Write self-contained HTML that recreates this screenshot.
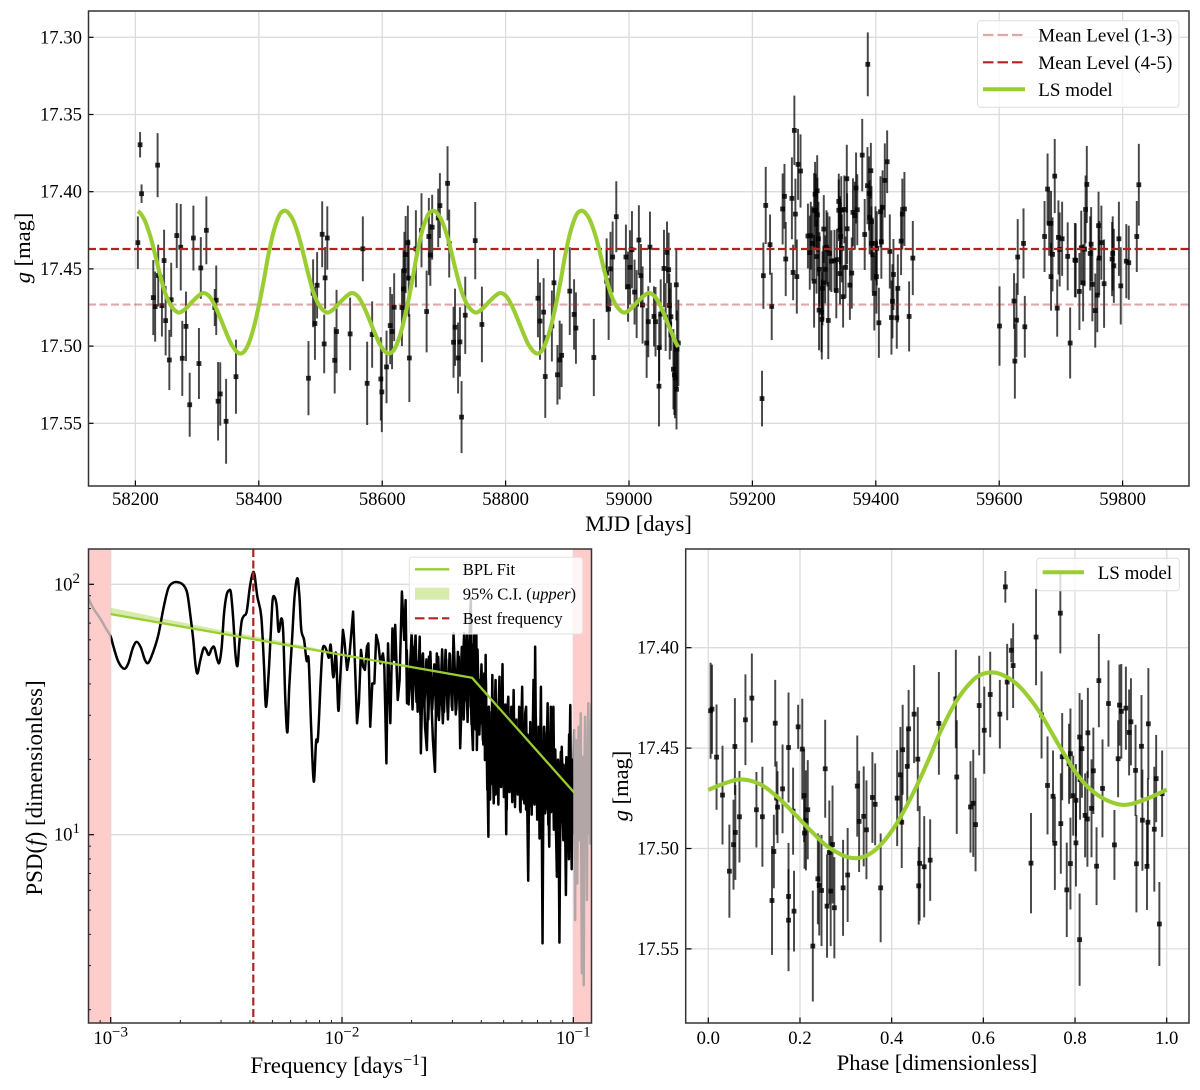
<!DOCTYPE html>
<html lang="en">
<head>
<meta charset="utf-8">
<title>Light curve, PSD and phase-folded plot</title>
<style>
html,body{margin:0;padding:0;background:#fff;}
svg{display:block;font-family:"Liberation Serif",serif;fill:#000;}
</style>
</head>
<body>
<svg id="figure" xmlns="http://www.w3.org/2000/svg" width="1200" height="1090" viewBox="0 0 1200 1090">
  <defs>
    <clipPath id="clip-lc"><rect x="88" y="11" width="1101" height="475"/></clipPath>
    <clipPath id="clip-ph"><rect x="686" y="549" width="503" height="474"/></clipPath>
    <clipPath id="clip-psd-main"><rect x="110.7" y="549" width="462.6" height="474"/></clipPath>
    <clipPath id="clip-psd-left"><rect x="88" y="549" width="22.7" height="474"/></clipPath>
    <clipPath id="clip-psd-right"><rect x="573.3" y="549" width="18" height="474"/></clipPath>
  </defs>

  <g id="panel-lc">
    <rect x="88" y="11" width="1101" height="475" fill="#fff"/>
    <g id="lc-grid"></g>
    <g id="lc-marks" clip-path="url(#clip-lc)"></g>
    <g id="lc-lines" clip-path="url(#clip-lc)"></g>
    <g id="lc-ticks"></g>
    <rect x="88.5" y="11" width="1100.5" height="475" fill="none" stroke="#333" stroke-width="1.5"/>
    <text x="638.5" y="531" font-size="22.5" text-anchor="middle">MJD [days]</text>
    <text transform="translate(30,248) rotate(-90)" font-size="22.5" text-anchor="middle"><tspan font-style="italic">g</tspan> [mag]</text>
    <g>
      <rect x="977.5" y="20.7" width="201.5" height="86.6" rx="3" fill="#fff" fill-opacity="0.8" stroke="#ddd" stroke-width="1"/>
      <line x1="983" x2="1025" y1="35" y2="35" stroke="#b22222" stroke-opacity="0.4" stroke-width="2.2" stroke-dasharray="10.5 4"/>
      <text x="1038.3" y="41.5" font-size="19">Mean Level (1-3)</text>
      <line x1="983" x2="1025" y1="62.3" y2="62.3" stroke="#b22222" stroke-width="2.2" stroke-dasharray="10.5 4"/>
      <text x="1038.3" y="68.8" font-size="19">Mean Level (4-5)</text>
      <line x1="983" x2="1025" y1="89.3" y2="89.3" stroke="#9acd32" stroke-width="4"/>
      <text x="1038.3" y="95.8" font-size="19">LS model</text>
    </g>
  </g>

  <g id="panel-psd">
    <rect x="88" y="549" width="503.5" height="474" fill="#fff"/>
    <g id="psd-grid"></g>
    <rect x="88" y="549" width="22.7" height="474" fill="#ffcccc"/>
    <rect x="573.3" y="549" width="18.2" height="474" fill="#ffcccc"/>
    <g id="psd-marks"></g>
    <g id="psd-ticks"></g>
    <rect x="88.5" y="549" width="503" height="474" fill="none" stroke="#333" stroke-width="1.5"/>
    <text x="339" y="1073" font-size="23" text-anchor="middle">Frequency [days<tspan dy="-8" font-size="16">−1</tspan><tspan dy="8">]</tspan></text>
    <text transform="translate(42,788) rotate(-90)" font-size="23" text-anchor="middle">PSD(<tspan font-style="italic">f</tspan>) [dimensionless]</text>
    <g>
      <rect x="409.3" y="557.3" width="173.4" height="76.7" rx="3" fill="#fff" fill-opacity="0.8" stroke="#e2e2e2" stroke-width="1"/>
      <line x1="415" x2="449.3" y1="569.3" y2="569.3" stroke="#9acd32" stroke-width="2.3"/>
      <text x="462.7" y="575" font-size="16.6">BPL Fit</text>
      <rect x="415" y="587.7" width="34.3" height="12" fill="#9acd32" fill-opacity="0.4"/>
      <text x="462.7" y="599.7" font-size="16.6">95% C.I. (<tspan font-style="italic">upper</tspan>)</text>
      <line x1="415" x2="449.3" y1="618.3" y2="618.3" stroke="#b22222" stroke-width="2.2" stroke-dasharray="9.5 4"/>
      <text x="462.7" y="624" font-size="16.6">Best frequency</text>
    </g>
  </g>

  <g id="panel-ph">
    <rect x="686" y="549" width="503" height="474" fill="#fff"/>
    <g id="ph-grid"></g>
    <g id="ph-marks" clip-path="url(#clip-ph)"></g>
    <g id="ph-lines" clip-path="url(#clip-ph)"></g>
    <g id="ph-ticks"></g>
    <rect x="685.7" y="549" width="503.3" height="474" fill="none" stroke="#333" stroke-width="1.5"/>
    <text x="937" y="1070" font-size="22.5" text-anchor="middle">Phase [dimensionless]</text>
    <text transform="translate(628,786) rotate(-90)" font-size="22.5" text-anchor="middle"><tspan font-style="italic">g</tspan> [mag]</text>
    <g>
      <rect x="1036.7" y="558.3" width="142.6" height="32.4" rx="3" fill="#fff" fill-opacity="0.8" stroke="#ddd" stroke-width="1"/>
      <line x1="1042.7" x2="1084" y1="572.3" y2="572.3" stroke="#9acd32" stroke-width="4"/>
      <text x="1097.7" y="579" font-size="19">LS model</text>
    </g>
  </g>
</svg>

<script>
// ---- Light curve observations ----
const lcMjd = [
58207.6,58210,58236,58204,58267,58273.5,58294,58315,58502.7,58511,
58568.6,58641.6,58654.6,58663.7,58675.6,58681,58690.8,58693.5,58705.9,58708.6,
58750.8,58229,58232,58237,58243,58246.5,58249,58255,58258,58276,
58282,58288,58303,58306,58331,58328.6,58334,58337.5,58347,58363,
58480.5,58488,58491,58494.5,58506,58507.5,58523,58526,58548,58575.6,
58583.7,58597.8,58599.4,58607,58613,58616,58619.4,58632,58634.5,58636,
58638,58643,58644,58672,58678,58715.6,58718,58723,58726,58728.6,
58734.6,58761.6,58852.4,58855.7,58861.6,58864.3,58875,58878.4,58884,58887.6,
58890.8,58904,58911,58914,58943,58963.8,58963.8,58967,58970,58973.5,
58979.4,58995,58998.4,59001.6,59004.8,59009,59012.4,59016,59019.4,59022,
59028.6,59031.3,59034,59040.5,59043,59048.6,59049,59051.4,59056.7,59059.4,
59061.6,59064.3,59065.4,59066,59068,59072,59073.5,59074.6,59076.7,59077,
59077.8,59080,59215.6,59217.8,59221.6,59228.6,59231.3,59387,59268,59274,
59278,59252,59249,59254,59264,59269.7,59266,59272,59290,59294.6,
59293,59297,59300,59301.6,59305,59302.7,59305.4,59307,59300,59304,
59308,59312.5,59313.6,59312,59308.6,59315,59315.7,59318,59320,59321.6,
59325,59323,59328,59333,59337,59336,59342,59340,59340,59342,
59343,59345,59344,59347,59349,59351,59353,59353.5,59358,59361,
59363,59366,59368,59370,59378,59382,59386.5,59389,59392,59390,
59393,59393,59399.5,59395,59397.6,59401,59401.6,59405,59407.6,59409,
59411,59414.6,59418.4,59422.7,59425.4,59427,59428.6,59434,59435.7,59441,
59443,59446.4,59454,59460,59600.5,59624,59625.4,59628,59630,59639.4,
59641.5,59673.5,59678.4,59681,59684,59684,59686.4,59690,59694,59696,
59698,59702,59711,59715,59722.7,59724,59730,59733,59736,59738.4,
59740,59742,59747.5,59749,59751,59755.7,59759,59761,59762,59765.6,
59770,59783,59784,59785.8,59794,59797,59806,59810,59823,59826.3];
const lcMag = [
17.3696,17.4013,17.3828,17.433,17.4284,17.436,17.43,17.425,17.4276,17.43,
17.437,17.433,17.437,17.425,17.429,17.423,17.417,17.409,17.3946,17.4336,
17.4317,17.4686,17.4744,17.4543,17.4738,17.4446,17.4835,17.509,17.47,17.5079,
17.4872,17.538,17.5113,17.4494,17.4703,17.475,17.5357,17.531,17.5487,17.5198,
17.5208,17.4658,17.4854,17.4606,17.4986,17.4558,17.5092,17.4906,17.4921,17.5241,
17.4925,17.5213,17.5297,17.5135,17.4867,17.4906,17.4748,17.475,17.463,17.451,
17.4407,17.456,17.5077,17.4776,17.441,17.4975,17.4878,17.5077,17.4973,17.546,
17.48,17.486,17.469,17.4838,17.478,17.5197,17.487,17.459,17.5186,17.509,
17.506,17.4644,17.4795,17.4883,17.5074,17.4527,17.458,17.476,17.45,17.4423,
17.4162,17.4423,17.4615,17.449,17.4376,17.465,17.4728,17.4313,17.4544,17.4734,
17.498,17.4842,17.4359,17.4808,17.4842,17.526,17.501,17.4793,17.4497,17.4812,
17.4393,17.4505,17.4737,17.4857,17.481,17.515,17.5186,17.5207,17.4603,17.528,
17.502,17.498,17.534,17.4544,17.4089,17.4343,17.4743,17.3175,17.3603,17.3823,
17.3866,17.403,17.4112,17.4436,17.4043,17.4145,17.4523,17.455,17.4287,17.4285,
17.4395,17.4335,17.412,17.4017,17.3994,17.4123,17.415,17.4305,17.458,17.442,
17.4767,17.4827,17.4626,17.478,17.4503,17.459,17.4242,17.4503,17.436,17.4374,
17.44,17.4834,17.445,17.4447,17.444,17.464,17.453,17.4063,17.412,17.4248,
17.429,17.4367,17.412,17.468,17.4115,17.449,17.3916,17.424,17.4605,17.4527,
17.4134,17.4155,17.3976,17.4117,17.3763,17.4277,17.3961,17.4011,17.3864,17.4166,
17.4194,17.4335,17.4335,17.4408,17.4659,17.455,17.4367,17.4849,17.413,17.4324,
17.4102,17.3927,17.3806,17.4387,17.4815,17.471,17.4536,17.4817,17.4626,17.432,
17.4145,17.4112,17.4808,17.443,17.487,17.4708,17.5097,17.4832,17.4423,17.4335,
17.4875,17.429,17.3983,17.4205,17.4205,17.455,17.4406,17.3899,17.4754,17.4296,
17.4374,17.4305,17.4419,17.498,17.4443,17.4445,17.4646,17.4363,17.459,17.4372,
17.4115,17.3953,17.44,17.434,17.46,17.477,17.467,17.422,17.443,17.433,
17.4596,17.4436,17.44,17.448,17.4305,17.461,17.445,17.446,17.429,17.3955];
const lcErr = [
.0082,.006,.0207,.017,.021,.028,.021,.022,.0213,.0205,
.021,.024,.025,.024,.025,.021,.019,.021,.024,.022,
.025,.0243,.0227,.02,.02,.02,.0225,.0195,.024,.0243,
.0225,.0207,.023,.02,.0225,.012,.0254,.0205,.0275,.024,
.024,.022,.0235,.0215,.019,.02,.0215,.027,.0235,.027,
.0215,.027,.026,.0235,.025,.0243,.022,.025,.025,.025,
.025,.025,.0285,.0265,.02,.023,.025,.023,.0225,.0233,
.025,.0245,.0253,.025,.022,.0268,.023,.0218,.0193,.0255,
.0205,.0284,.0228,.0231,.025,.0225,.02,.02,.024,.023,
.023,.021,.0227,.024,.025,.021,.022,.0225,.0205,.025,
.0226,.023,.023,.0195,.0225,.026,.0215,.0225,.025,.022,
.02,.024,.0205,.023,.022,.026,.026,.026,.023,.026,
.025,.028,.018,.0215,.025,.0195,.0218,.0207,.0225,.023,
.0237,.021,.023,.024,.0265,.023,.018,.024,.021,.022,
.024,.024,.024,.021,.023,.024,.024,.024,.03,.024,
.026,.026,.024,.026,.024,.024,.022,.022,.024,.024,
.024,.025,.02,.02,.02,.018,.02,.018,.02,.022,
.022,.022,.022,.02,.022,.02,.022,.023,.0225,.023,
.022,.022,.023,.023,.0235,.023,.025,.024,.018,.024,
.023,.024,.024,.024,.024,.024,.024,.0227,.023,.024,
.024,.024,.0203,.024,.024,.024,.023,.02,.022,.022,
.023,.024,.0227,.024,.0257,.018,.0243,.024,.0245,.0227,
.02,.023,.023,.021,.021,.022,.024,.024,.0185,.024,
.024,.024,.022,.023,.024,.024,.025,.024,.025,.024,
.022,.025,.024,.024,.024,.024,.024,.022,.024,.024,
.0286,.024,.024,.024,.024,.025,.024,.024,.023,.0265];

// ---- Phase-folded observations ----
const phPhase = [
.005,.008,.018,.031,.046,.055,.058,.059,.068,.081,
.095,.105,.118,.139,.143,.146,.149,.151,.162,.175,
.175,.175,.185,.187,.196,.205,.209,.21,.213,.217,
.228,.239,.242,.247,.255,.259,.264,.267,.271,.275,
.294,.304,.325,.329,.339,.345,.358,.364,.376,.412,
.419,.422,.424,.434,.437,.449,.457,.459,.461,.471,
.484,.503,.54,.542,.572,.578,.583,.591,.602,.615,
.636,.648,.652,.661,.665,.704,.715,.727,.74,.752,
.756,.768,.769,.772,.782,.787,.79,.79,.796,.802,
.802,.81,.81,.811,.815,.822,.828,.827,.836,.84,
.847,.852,.86,.873,.886,.894,.897,.901,.911,.918,
.922,.932,.934,.945,.947,.957,.959,.96,.973,.977,
.984,.99];
const phMag = [
17.4314,17.4306,17.4545,17.4734,17.5113,17.4981,17.4492,17.492,17.4842,17.4359,
17.4251,17.4807,17.4842,17.5259,17.5015,17.4376,17.4749,17.4794,17.4703,17.4497,
17.5239,17.5357,17.4814,17.5312,17.4394,17.4505,17.4736,17.4923,17.486,17.4807,
17.5486,17.5151,17.5184,17.5209,17.4603,17.5287,17.502,17.5212,17.498,17.5295,
17.5196,17.5132,17.4689,17.4865,17.484,17.4907,17.4746,17.478,17.5196,17.4749,
17.4633,17.4869,17.4508,17.4591,17.4404,17.4331,17.4555,17.5186,17.5074,17.5091,
17.5058,17.4377,17.4255,17.4644,17.4793,17.4775,17.4881,17.4288,17.4411,17.4233,
17.4331,17.3697,17.4171,17.4013,17.4089,17.5073,17.3947,17.4335,17.4686,17.474,
17.4974,17.3828,17.4876,17.4543,17.5206,17.4578,17.5075,17.4528,17.4737,17.476,
17.4972,17.4445,17.5454,17.4657,17.4503,17.4835,17.4424,17.4853,17.48,17.4613,
17.5088,17.4164,17.4701,17.4278,17.4982,17.4553,17.4286,17.4317,17.4301,17.4422,
17.4369,17.4611,17.5076,17.4491,17.4859,17.5089,17.4869,17.4379,17.4904,17.4652,
17.5376,17.4727];
const phErr = [
.0239,.0222,.0262,.0246,.0232,.0224,.0241,.0236,.0228,.0226,
.0222,.0188,.0249,.0271,.0183,.0216,.0183,.0179,.0221,.0274,
.0267,.0254,.0217,.0201,.011,.0251,.0232,.0178,.0249,.0247,
.0276,.0226,.0249,.0277,.0244,.0257,.0259,.0274,.0294,.0252,
.0239,.0234,.0252,.0252,.0249,.0246,.0226,.0204,.0271,.0239,
.0239,.0228,.0224,.0191,.0194,.0244,.0259,.0193,.0286,.0252,
.0203,.0256,.0245,.0283,.0228,.0267,.0233,.0248,.0217,.0213,
.0171,.0079,.019,.006,.0211,.025,.024,.0217,.0244,.0228,
.0232,.02,.025,.0217,.0235,.0199,.0229,.0225,.0199,.018,
.0217,.0219,.023,.0199,.0244,.0209,.0224,.0238,.0244,.0215,
.0194,.0232,.0244,.0215,.0174,.0192,.0202,.0236,.0207,.0214,
.0217,.0227,.0242,.0255,.0252,.0217,.0219,.0277,.0311,.0217,
.0209,.0215];

// ---- Reference levels and ephemeris ----
const meanLevelEarly = 17.4731;
const meanLevelLate = 17.4371;
const foldPeriod = 240.6;
const foldEpoch = 58203;
const foldPhaseAtEpoch = 0.625;
const modelFirstMjd = 58204;
const modelLastMjd = 59080;

// ---- LS model, one cycle ----
const modelPhase = [0,.04,.0727,.113,.149,.185,.229,.265,.316,.36,.404,.447,.484,.505,.542,.578,.6,.625,.65,.675,.702,.727,.775,.811,.847,.884,.913,.956,1];
const modelMag = [17.4708,17.4672,17.4656,17.468,17.474,17.482,17.4924,17.4998,17.5048,17.5015,17.49,17.4724,17.454,17.4425,17.4263,17.416,17.413,17.4124,17.4145,17.4185,17.4255,17.4337,17.4525,17.465,17.473,17.4773,17.4782,17.4753,17.4707];

// ---- Tick labels ----
const lcXTicks = [58200,58400,58600,58800,59000,59200,59400,59600,59800];
const lcYTicks = [17.30,17.35,17.40,17.45,17.50,17.55];
const phXTicks = [0,.2,.4,.6,.8,1];
const phYTicks = [17.40,17.45,17.50,17.55];
const psdXDecades = [-3,-2,-1];
const psdYDecades = [1,2];

// ---- Power spectrum, log10 units ----
const psdLogFreq = [
-3.0965,-3.075,-3.046,-3.017,-3,-2.988,-2.967,-2.942,-2.924,-2.905,-2.888,-2.87,-2.852,-2.837,-2.816,-2.794,-2.772,-2.751,-2.729,-2.707,
-2.686,-2.669,-2.654,-2.643,-2.634,-2.625,-2.614,-2.599,-2.588,-2.576,-2.563,-2.552,-2.539,-2.53,-2.52,-2.51,-2.499,-2.488,-2.48,-2.47,
-2.461,-2.452,-2.444,-2.434,-2.424,-2.412,-2.398,-2.386,-2.378,-2.366,-2.349,-2.337,-2.329,-2.318,-2.308,-2.3,-2.291,-2.282,-2.274,-2.262,
-2.254,-2.245,-2.236,-2.228,-2.216,-2.205,-2.193,-2.184,-2.176,-2.164,-2.153,-2.144,-2.133,-2.122,-2.112,-2.104,-2.092,-2.084,-2.074,-2.063,
-2.056,-2.049,-2.04,-2.035,-2.026,-2.016,-2.009,
-1.996,-1.99,-1.978,-1.967,-1.952,-1.944,-1.935,-1.927,-1.918,-1.909,-1.901,-1.892,-1.886,-1.878,-1.869,-1.86,-1.852,-1.843,-1.834,-1.823,
-1.817,-1.808,-1.801,-1.791,-1.782,-1.774,-1.77,-1.759,-1.751,-1.741,-1.731,-1.725,-1.719,-1.708,-1.699,-1.69,-1.682,-1.673,-1.664,-1.659,
-1.65,-1.641,-1.633,-1.624,-1.616,-1.607,-1.598,-1.59,-1.581,-1.572,-1.564,-1.552,-1.543,-1.535,-1.523,-1.518,-1.506,-1.495,-1.489,-1.48,-1.472,
-1.465,-1.46,-1.454,-1.448,-1.443,-1.438,-1.434,-1.429,-1.424,-1.419,-1.417,-1.412,-1.408,-1.402,-1.396,-1.391,-1.385,-1.382,-1.379,-1.376,
-1.372,-1.367,-1.365,-1.362,-1.359,-1.355,-1.35,-1.347,-1.344,-1.34,-1.336,-1.331,-1.327,-1.323,-1.319,-1.316,-1.313,-1.309,-1.306,-1.302,
-1.299,-1.295,-1.29,-1.286,-1.281,-1.277,-1.273,-1.268,-1.264,-1.258,-1.253,-1.247,-1.243,-1.238,-1.234,-1.23,-1.225,-1.221,-1.217,-1.212,
-1.208,-1.204,-1.199,-1.195,-1.191,-1.186,-1.182,-1.178,-1.175,-1.172,-1.168,-1.165,-1.161,-1.155,-1.15,-1.146,-1.143,-1.14,-1.137,-1.133,
-1.129,-1.126,-1.122,-1.117,-1.114,-1.111,-1.107,-1.104,-1.1,-1.097,-1.091,-1.086,-1.082,-1.077,-1.074,-1.071,-1.069,-1.066,-1.063,-1.06,
-1.057,-1.054,-1.05,-1.047,-1.043,-1.04,-1.036,-1.032,-1.028,-1.025,-1.023,-1.019,-1.016,-1.013,-1.01,-1.007,-1.003,-1,
-0.996,-0.994,-0.992,-0.991,-0.989,-0.986,-0.983,-0.98,-0.977,-0.975,-0.973,-0.971,-0.968,-0.966,-0.963,-0.961,-0.958,-0.957,-0.955,-0.952,
-0.949,-0.948,-0.945,-0.944,-0.941,-0.938,-0.935,-0.934,-0.931,-0.928,-0.927,-0.924,-0.921];
const psdLogPower = [
1.944,1.904,1.864,1.818,1.791,1.751,1.691,1.663,1.684,1.744,1.77,1.748,1.698,1.687,1.731,1.798,1.904,1.984,2.007,2.008,
1.997,1.964,1.864,1.778,1.684,1.644,1.691,1.744,1.74,1.718,1.744,1.748,1.698,1.688,1.751,1.884,1.957,1.976,1.964,1.858,
1.724,1.674,1.764,1.851,1.874,1.891,1.991,2.044,2.037,1.951,1.871,1.671,1.511,1.631,1.804,1.937,1.948,1.911,1.811,1.864,
1.804,1.538,1.409,1.591,1.778,1.951,2.024,1.951,1.818,1.778,1.695,1.695,1.418,1.212,1.372,1.385,1.618,1.738,1.751,1.724,
1.708,1.758,1.644,1.638,1.724,1.498,1.605,
1.818,1.778,1.658,1.724,1.891,1.684,1.445,1.525,1.738,1.671,1.658,1.751,1.764,1.431,1.604,1.604,1.798,1.764,1.684,1.724,
1.671,1.285,1.764,1.445,1.824,1.698,1.838,1.538,1.618,1.971,1.778,1.937,1.525,1.618,1.804,1.631,1.798,1.491,1.791,1.325,
1.724,1.431,1.338,1.711,1.591,1.378,1.251,1.724,1.458,1.644,1.445,1.738,1.485,1.724,1.498,1.804,1.498,1.711,1.345,1.618,1.804,
1.538,1.798,1.511,1.798,1.944,1.431,1.338,1.798,1.511,1.798,1.338,1.578,1.618,1.445,1.551,1.378,1.644,1.298,1.718,1.351,
1.298,.992,1.511,1.178,1.405,1.218,1.638,1.245,1.125,1.485,1.618,1.245,1.165,1.511,1.631,1.245,1.351,1.511,1.681,1.245,
1.178,1.458,1.002,1.485,1.551,1.218,1.351,1.511,1.165,1.578,1.245,1.431,1.325,1.245,1.511,1.098,1.431,1.591,1.245,1.125,
1.485,1.511,1.112,.816,1.218,1.378,1.112,1.178,1.431,1.618,1.245,1.751,1.325,1.138,1.431,.985,1.351,1.591,1.165,.566,
1.245,1.431,1.085,1.138,1.378,1.525,1.112,.952,1.351,1.511,1.112,1.511,1.138,1.112,.978,.832,1.165,1.271,.978,.569,
.978,1.112,1.351,1.245,.978,1.072,1.112,.759,1.138,1.072,1.245,.902,1.325,1.518,1.112,.862,1.245,1.165,
1.418,1.005,.659,1.245,1.378,1.005,.805,1.245,1.431,1.005,.978,1.245,1.485,1.005,.446,1.005,1.311,1.005,.399,1.245,
1.471,1.005,.978,1.351,.739,1.351,1.525,1.005,1.005,1.431,.965,1.431,1.525];
const psdSmoothBelow = -2.0;

// ---- Dense, unresolved part of the power spectrum, log10 units ----
const psdDenseLogFreq = [
-1.72,-1.712,-1.703,-1.695,-1.686,-1.678,-1.669,-1.661,-1.652,-1.644,-1.635,-1.627,-1.618,-1.61,-1.601,-1.593,-1.584,-1.576,-1.567,-1.559,
-1.55,-1.542,-1.533,-1.525,-1.516,-1.508,-1.499,-1.491,-1.482,-1.474,-1.465,-1.457,-1.448,-1.44,-1.431,-1.423,-1.414,-1.406,-1.397,-1.389,
-1.378,-1.372,-1.366,-1.36,-1.354,-1.348,-1.342,-1.336,-1.33,-1.324,-1.318,-1.312,-1.306,-1.3,-1.294,-1.288,-1.282,-1.276,-1.27,-1.264,
-1.258,-1.252,-1.246,-1.24,-1.234,-1.228,-1.222,-1.216,-1.21,-1.204,-1.198,-1.192,-1.186,-1.18,-1.174,-1.168,-1.162,-1.156,-1.15,-1.144,
-1.138,-1.132,-1.126,-1.12,-1.114,-1.108,-1.102,-1.096,-1.09,-1.084,-1.078,-1.072,-1.066,-1.06,-1.054,-1.048,-1.042,-1.036,-1.03,-1.024,-1.018,-1.012,-1.006,-1];
const psdDenseLogPower = [
1.74,1.52,1.71,1.5,1.75,1.53,1.69,1.48,1.72,1.51,1.7,1.46,1.73,1.5,1.68,1.47,1.71,1.52,1.74,1.49,
1.7,1.46,1.72,1.51,1.69,1.48,1.73,1.5,1.75,1.46,1.72,1.45,1.77,1.44,1.76,1.42,1.74,1.4,1.68,1.36,
1.62,1.18,1.51,1.14,1.49,1.2,1.53,1.16,1.47,1.12,1.5,1.19,1.46,1.15,1.52,1.1,1.48,1.17,1.44,1.13,
1.5,1.11,1.46,1.16,1.42,1.09,1.47,1.14,1.44,1.1,1.4,1.15,1.45,1.08,1.41,1.12,1.47,1.06,1.39,1.11,
1.43,1.07,1.38,1.1,1.41,1.04,1.36,1.09,1.39,1.02,1.34,1.07,1.3,1.0,1.33,1.05,1.28,.98,1.31,1.04,1.4,.96,1.3,1.0];

// ---- Broken power-law fit and upper confidence band, log10 units ----
const bplLogFreq = [-3,-1.438,-0.996];
const bplLogPower = [1.881,1.627,1.168];
const ciLogFreq = [-3,-2.787,-2.556,-2.268,-2.124,-2.009];
const ciUpper = [1.907,1.866,1.823,1.774,1.747,1.72];
const ciLower = [1.881,1.846,1.809,1.762,1.739,1.72];
const bestLogFreq = -2.3835;

// ---- Axis functions ----
function lcX(v){return 135.4+(v-58200)*0.617;}
function lcY(v){return 37.3+(v-17.3)*1544;}
function phX(v){return 708.3+v*458.4;}
function phY(v){return 647.7+(v-17.4)*2008;}
function psdX(v){return 110.7+(v+3)*231.3;}
function psdY(v){return 584.3+(2-v)*250.4;}

const NS='http://www.w3.org/2000/svg';
const barWidth=1.95;
const pointSize=4.8;
function mk(tag,parentId){
  const el=document.createElementNS(NS,tag);
  document.getElementById(parentId).appendChild(el);
  return el;
}
function setLine(el,x1,y1,x2,y2,stroke,width){
  el.setAttribute('x1',x1.toFixed(2));
  el.setAttribute('y1',y1.toFixed(2));
  el.setAttribute('x2',x2.toFixed(2));
  el.setAttribute('y2',y2.toFixed(2));
  el.setAttribute('stroke',stroke);
  el.setAttribute('stroke-width',width);
}
function gridLine(parent,x1,y1,x2,y2){
  const el=mk('line',parent);
  setLine(el,x1,y1,x2,y2,'#dcdcdc',1.3);
  
  
}
function tickLine(parent,x1,y1,x2,y2,width){
  const el=mk('line',parent);
  setLine(el,x1,y1,x2,y2,'#000',width);
  
  
}
function tickLabel(parent,x,y,anchor,label){
  const el=mk('text',parent);
  el.setAttribute('x',x.toFixed(2));
  el.setAttribute('y',y.toFixed(2));
  el.setAttribute('text-anchor',anchor);
  el.setAttribute('font-size','18.7');
  el.textContent=label;
  
  
  return el;
}
function powerLabel(parent,x,y,anchor,exponent){
  const el=tickLabel(parent,x,y,anchor,'10');
  const sup=document.createElementNS(NS,'tspan');
  sup.setAttribute('dy','-7.5');
  sup.setAttribute('font-size','15');
  sup.textContent=String(exponent).replace('-','−');
  el.appendChild(sup);
}
function errorBar(parent,x,y1,y2){
  const el=mk('line',parent);
  setLine(el,x,y1,x,y2,'#000',barWidth);
  el.setAttribute('stroke-opacity','0.72');
  
  
}
function pointMark(parent,x,y,size){
  const el=mk('rect',parent);
  el.setAttribute('x',(x-size/2).toFixed(2));
  el.setAttribute('y',(y-size/2).toFixed(2));
  el.setAttribute('width',size);
  el.setAttribute('height',size);
  el.setAttribute('fill','#000');
  el.setAttribute('fill-opacity','0.82');
  
  
}
function foldPhase(mjd){
  const p=(mjd-foldEpoch)/foldPeriod+foldPhaseAtEpoch;
  return p-Math.floor(p);
}
function slope(i){
  const n=modelPhase.length;
  const a=Math.max(0,i-1), b=Math.min(n-1,i+1);
  return (modelMag[b]-modelMag[a])/(modelPhase[b]-modelPhase[a]);
}
function modelAt(p){
  let i=0;
  while(i<modelPhase.length-2 && modelPhase[i+1]<p) i++;
  const h=modelPhase[i+1]-modelPhase[i];
  const t=(p-modelPhase[i])/h;
  const t2=t*t,t3=t2*t;
  return (2*t3-3*t2+1)*modelMag[i]+(t3-2*t2+t)*h*slope(i)+(-2*t3+3*t2)*modelMag[i+1]+(t3-t2)*h*slope(i+1);
}
function pathFrom(xs,ys){
  return xs.map((x,i)=>(i?'L':'M')+x.toFixed(2)+' '+ys[i].toFixed(2)).join('');
}
function psdPathFrom(lf,lp){
  const xs=lf.map(psdX), ys=lp.map(psdY);
  let d='M'+xs[0].toFixed(2)+' '+ys[0].toFixed(2);
  for(let i=1;i<xs.length;i++){
    if(lf[i]<psdSmoothBelow){
      const a=Math.max(0,i-2), b=i-1, c=i, e=Math.min(xs.length-1,i+1);
      const c1x=xs[b]+(xs[c]-xs[a])/6, c1y=ys[b]+(ys[c]-ys[a])/6;
      const c2x=xs[c]-(xs[e]-xs[b])/6, c2y=ys[c]-(ys[e]-ys[b])/6;
      d+='C'+c1x.toFixed(2)+' '+c1y.toFixed(2)+' '+c2x.toFixed(2)+' '+c2y.toFixed(2)+' '+xs[c].toFixed(2)+' '+ys[c].toFixed(2);
    }else{
      d+='L'+xs[i].toFixed(2)+' '+ys[i].toFixed(2);
    }
  }
  return d;
}

// ---- Light curve panel ----
lcXTicks.forEach(v=>{
  gridLine('lc-grid',lcX(v),11,lcX(v),486);
  tickLine('lc-ticks',lcX(v),486,lcX(v),480.5,1.2);
  tickLabel('lc-ticks',lcX(v),505,'middle',String(v));
});
lcYTicks.forEach(v=>{
  gridLine('lc-grid',88,lcY(v),1189,lcY(v));
  tickLine('lc-ticks',88,lcY(v),93.5,lcY(v),1.2);
  tickLabel('lc-ticks',82,lcY(v)+6,'end',v.toFixed(2));
});
lcMjd.forEach((m,i)=>{
  errorBar('lc-marks',lcX(m),lcY(lcMag[i]-lcErr[i]),lcY(lcMag[i]+lcErr[i]));
});
lcMjd.forEach((m,i)=>{
  pointMark('lc-marks',lcX(m),lcY(lcMag[i]),pointSize);
});
const earlyLine=mk('line','lc-lines');
setLine(earlyLine,88,lcY(meanLevelEarly),1189,lcY(meanLevelEarly),'#b22222',2.2);
earlyLine.setAttribute('stroke-opacity','0.4');
earlyLine.setAttribute('stroke-dasharray','8 3.5');


const lateLine=mk('line','lc-lines');
setLine(lateLine,88,lcY(meanLevelLate),1189,lcY(meanLevelLate),'#b22222',2.2);
lateLine.setAttribute('stroke-dasharray','8 3.5');


const lcModelX=[],lcModelY=[];
for(let m=modelFirstMjd;m<=modelLastMjd;m+=2){
  lcModelX.push(lcX(m));
  lcModelY.push(lcY(modelAt(foldPhase(m))));
}
const lcModel=mk('path','lc-lines');
lcModel.setAttribute('d',pathFrom(lcModelX,lcModelY));
lcModel.setAttribute('fill','none');
lcModel.setAttribute('stroke','#9acd32');
lcModel.setAttribute('stroke-width','4.1');
lcModel.setAttribute('stroke-linejoin','round');



// ---- Phase panel ----
phXTicks.forEach(v=>{
  gridLine('ph-grid',phX(v),549,phX(v),1023);
  tickLine('ph-ticks',phX(v),1023,phX(v),1017.5,1.2);
  tickLabel('ph-ticks',phX(v),1044,'middle',v.toFixed(1));
});
phYTicks.forEach(v=>{
  gridLine('ph-grid',686,phY(v),1189,phY(v));
  tickLine('ph-ticks',686,phY(v),691.5,phY(v),1.2);
  tickLabel('ph-ticks',679,phY(v)+6,'end',v.toFixed(2));
});
phPhase.forEach((p,i)=>{
  errorBar('ph-marks',phX(p),phY(phMag[i]-phErr[i]),phY(phMag[i]+phErr[i]));
});
phPhase.forEach((p,i)=>{
  pointMark('ph-marks',phX(p),phY(phMag[i]),pointSize);
});
const phModelX=[],phModelY=[];
for(let k=0;k<=200;k++){
  const p=k/200;
  phModelX.push(phX(p));
  phModelY.push(phY(modelAt(p)));
}
const phModel=mk('path','ph-lines');
phModel.setAttribute('d',pathFrom(phModelX,phModelY));
phModel.setAttribute('fill','none');
phModel.setAttribute('stroke','#9acd32');
phModel.setAttribute('stroke-width','4.1');
phModel.setAttribute('stroke-linejoin','round');



// ---- PSD panel ----
psdXDecades.forEach(d=>{
  gridLine('psd-grid',psdX(d),549,psdX(d),1023);
  tickLine('psd-ticks',psdX(d),1023,psdX(d),1017,1.2);
  powerLabel('psd-ticks',psdX(d),1044,'middle',d);
  for(let k=2;k<10;k++){
    const lf=d+Math.log10(k);
    if(psdX(lf)<591){
      tickLine('psd-ticks',psdX(lf),1023,psdX(lf),1020,0.9);
    }
  }
  const lower=psdX(d-1+Math.log10(9));
  if(d===-3 && lower>88){
    tickLine('psd-ticks',lower,1023,lower,1020,0.9);
  }
});
psdYDecades.forEach(d=>{
  gridLine('psd-grid',88,psdY(d),591,psdY(d));
  tickLine('psd-ticks',88,psdY(d),94,psdY(d),1.2);
  powerLabel('psd-ticks',80,psdY(d)+6,'end',d);
});
for(let d=0;d<=2;d++){
  for(let k=2;k<10;k++){
    const lp=d+Math.log10(k);
    if(psdY(lp)>549 && psdY(lp)<1023){
      tickLine('psd-ticks',88,psdY(lp),91,psdY(lp),0.9);
    }
  }
}
const bandTopX=ciLogFreq.map(psdX), bandTopY=ciUpper.map(psdY);
const bandLowX=ciLogFreq.map(psdX).reverse(), bandLowY=ciLower.map(psdY).reverse();
const band=mk('path','psd-marks');
band.setAttribute('d',pathFrom(bandTopX.concat(bandLowX),bandTopY.concat(bandLowY))+'Z');
band.setAttribute('fill','#9acd32');
band.setAttribute('fill-opacity','0.4');



const psdPath=psdPathFrom(psdLogFreq,psdLogPower);
const psdMain=mk('path','psd-marks');
psdMain.setAttribute('d',psdPath);
psdMain.setAttribute('fill','none');
psdMain.setAttribute('stroke','#000');
psdMain.setAttribute('stroke-width','2.5');
psdMain.setAttribute('stroke-linejoin','round');
psdMain.setAttribute('clip-path','url(#clip-psd-main)');


const psdDense=mk('path','psd-marks');
psdDense.setAttribute('d',pathFrom(psdDenseLogFreq.map(psdX),psdDenseLogPower.map(psdY)));
psdDense.setAttribute('fill','none');
psdDense.setAttribute('stroke','#000');
psdDense.setAttribute('stroke-width','2.5');
psdDense.setAttribute('stroke-linejoin','round');
psdDense.setAttribute('clip-path','url(#clip-psd-main)');


const psdLeft=mk('path','psd-marks');
psdLeft.setAttribute('d',psdPath);
psdLeft.setAttribute('fill','none');
psdLeft.setAttribute('stroke','#b3a6a6');
psdLeft.setAttribute('stroke-width','2.5');
psdLeft.setAttribute('stroke-linejoin','round');
psdLeft.setAttribute('clip-path','url(#clip-psd-left)');


const psdRight=mk('path','psd-marks');
psdRight.setAttribute('d',psdPath);
psdRight.setAttribute('fill','none');
psdRight.setAttribute('stroke','#b3a6a6');
psdRight.setAttribute('stroke-width','2.5');
psdRight.setAttribute('stroke-linejoin','round');
psdRight.setAttribute('clip-path','url(#clip-psd-right)');



const bpl=mk('path','psd-marks');
bpl.setAttribute('d',pathFrom(bplLogFreq.map(psdX),bplLogPower.map(psdY)));
bpl.setAttribute('fill','none');
bpl.setAttribute('stroke','#9acd32');
bpl.setAttribute('stroke-width','2.3');
bpl.setAttribute('stroke-linejoin','round');



const bestLine=mk('line','psd-marks');
setLine(bestLine,psdX(bestLogFreq),549,psdX(bestLogFreq),1023,'#b22222',2.2);
bestLine.setAttribute('stroke-dasharray','8 3.5');


</script>
</body>
</html>
